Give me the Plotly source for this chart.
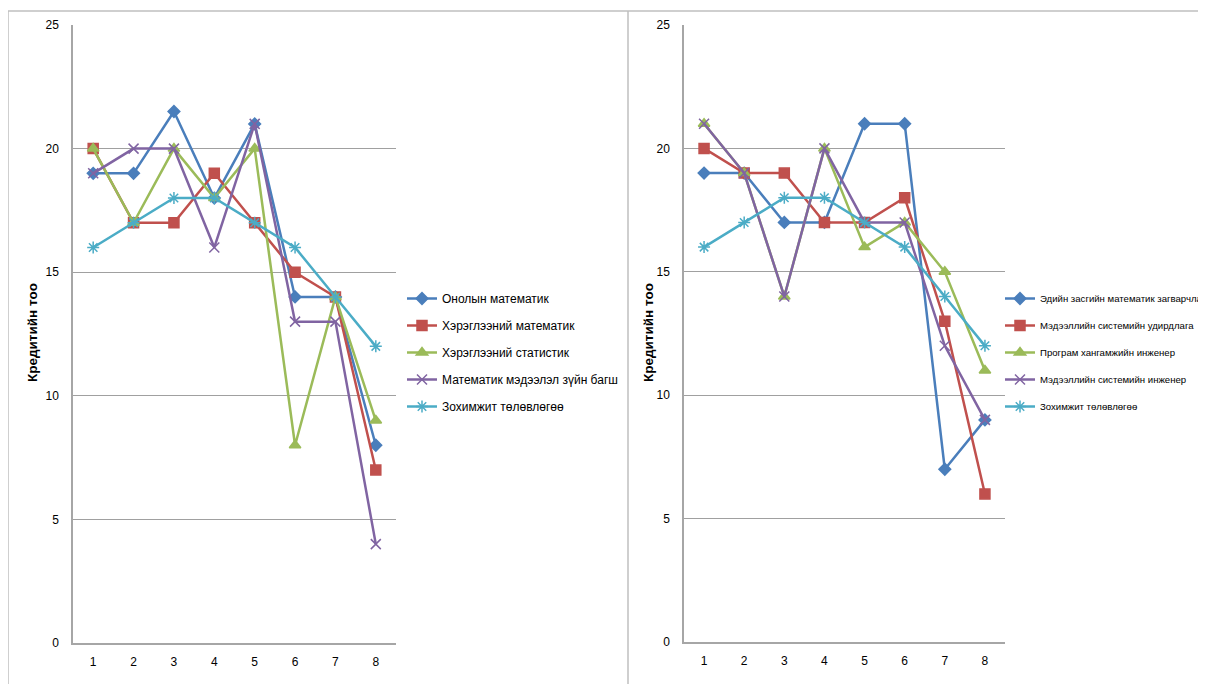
import plotly.graph_objects as go

# page body has an 8px margin: lay out in target pixels and compensate
OFF = 8
W, H = 1206 - OFF, 684 - OFF
categories = [1, 2, 3, 4, 5, 6, 7, 8]

left_names = ["Онолын математик", "Хэрэглээний математик", "Хэрэглээний статистик",
              "Математик мэдээлэл зүйн багш", "Зохимжит төлөвлөгөө"]
left_onol = [19, 19, 21.5, 18, 21, 14, 14, 8]
left_hm = [20, 17, 17, 19, 17, 15, 14, 7]
left_hs = [20, 17, 20, 18, 20, 8, 14, 9]
left_mmb = [19, 20, 20, 16, 21, 13, 13, 4]
left_zt = [16, 17, 18, 18, 17, 16, 14, 12]

right_names = ["Эдийн засгийн математик загварчлал", "Мэдээллийн системийн удирдлага",
               "Програм хангамжийн инженер", "Мэдээллийн системийн инженер", "Зохимжит төлөвлөгөө"]
right_ezm = [19, 19, 17, 17, 21, 21, 7, 9]
right_msu = [20, 19, 19, 17, 17, 18, 13, 6]
right_phi = [21, 19, 14, 20, 16, 17, 15, 11]
right_msi = [21, 19, 14, 20, 17, 17, 12, 9]
right_zt = [16, 17, 18, 18, 17, 16, 14, 12]

y_ticks = [0, 5, 10, 15, 20, 25]
y_title = "Кредитийн тоо"

colors = ["#4A7EBB", "#C0504D", "#9BBB59", "#8064A2", "#4BACC6"]
symbols = ["diamond", "square", "triangle-up", "x-thin-open", "asterisk-open"]
msizes = [9, 10, 10, 10, 10]

FONT = "Liberation Sans, Arial, sans-serif"

fig = go.Figure()

def add_series(names, series, xa, ya, legend):
    for i, (nm, vals) in enumerate(zip(names, series)):
        fig.add_trace(go.Scatter(
            x=categories, y=vals, name=nm, mode="lines+markers",
            line=dict(color=colors[i], width=2.5),
            marker=dict(symbol=symbols[i], size=msizes[i], color=colors[i],
                        line=dict(color=colors[i], width=1.5)),
            xaxis=xa, yaxis=ya, legend=legend, legendgroup=legend + str(i),
        ))

add_series(left_names, [left_onol, left_hm, left_hs, left_mmb, left_zt], "x", "y", "legend")
add_series(right_names, [right_ezm, right_msu, right_phi, right_msi, right_zt], "x2", "y2", "legend2")

def px_x(p):
    return (p - OFF) / W

def px_y(p):
    return 1 - (p - OFF) / H

axis_common = dict(
    showgrid=False, showline=True, linecolor="#A6A6A6", linewidth=1.5,
    ticks="", tickfont=dict(family=FONT, size=12, color="#000000"), zeroline=False,
)
xcommon = dict(axis_common, range=[0.5, 8.5], tickvals=categories, ticklabelstandoff=7)
ycommon = dict(axis_common, range=[0, 25], tickvals=y_ticks, showgrid=True,
               gridcolor="#A0A0A0", gridwidth=1, ticklabelstandoff=10)

fig.update_layout(
    width=W, height=H,
    margin=dict(l=0, r=0, t=0, b=0, autoexpand=False),
    paper_bgcolor="white", plot_bgcolor="white",
    font=dict(family=FONT, size=11, color="#000000"),
    xaxis=dict(xcommon, domain=[px_x(73), px_x(396)], anchor="y"),
    yaxis=dict(ycommon, domain=[px_y(643), px_y(25)], anchor="x"),
    xaxis2=dict(xcommon, domain=[px_x(684), px_x(1005)], anchor="y2"),
    yaxis2=dict(ycommon, domain=[px_y(642), px_y(25)], anchor="x2"),
    legend=dict(x=px_x(402), y=px_y(284), xanchor="left", yanchor="top",
                bgcolor="rgba(0,0,0,0)", font=dict(family=FONT, size=12),
                tracegroupgap=8, itemwidth=30),
    legend2=dict(x=px_x(1000), y=px_y(284), xanchor="left", yanchor="top",
                 bgcolor="rgba(0,0,0,0)", font=dict(family=FONT, size=9.6),
                 tracegroupgap=8, itemwidth=30),
    showlegend=True,
)

annotations = [
    dict(text="<b>" + y_title + "</b>", x=px_x(32), y=px_y(333), xref="paper", yref="paper",
         xanchor="center", yanchor="middle",
         textangle=-90, showarrow=False, font=dict(family=FONT, size=13.5)),
    dict(text="<b>" + y_title + "</b>", x=px_x(648), y=px_y(333), xref="paper", yref="paper",
         xanchor="center", yanchor="middle",
         textangle=-90, showarrow=False, font=dict(family=FONT, size=13.5)),
]
fig.update_layout(annotations=annotations)

frame = dict(color="#BFBFBF", width=1.5)
shapes = [
    dict(type="line", xref="paper", yref="paper", x0=px_x(8), x1=1, y0=px_y(11), y1=px_y(11), line=frame),
    dict(type="line", xref="paper", yref="paper", x0=px_x(8), x1=px_x(8), y0=px_y(11), y1=0, line=frame),
    dict(type="line", xref="paper", yref="paper", x0=px_x(628), x1=px_x(628), y0=px_y(11), y1=0, line=frame),
]
fig.update_layout(shapes=shapes)

fig.write_html("out.html")
